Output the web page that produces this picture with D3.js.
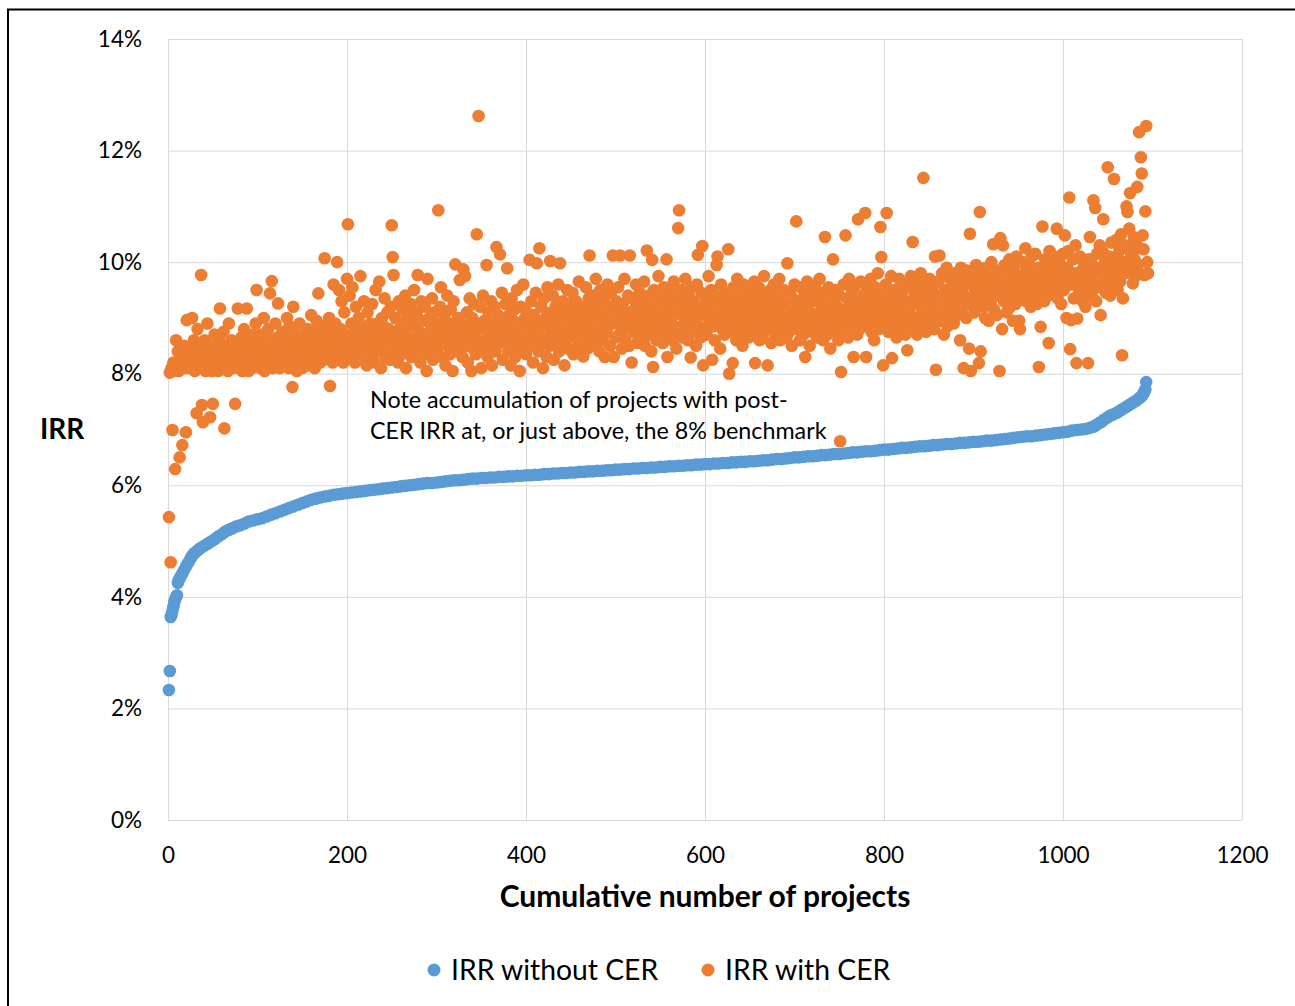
<!DOCTYPE html>
<html><head><meta charset="utf-8">
<script src="https://cdn.jsdelivr.net/npm/d3@7/dist/d3.min.js"></script>
<style>
body{margin:0;background:#fff}
svg{display:block}
text{font-family:Lato,"Open Sans","Liberation Sans",sans-serif}
</style>
</head><body>
<svg id="chart" width="1295" height="1006"></svg>
<script>
// ---------- data ----------
const xTicks = [0, 200, 400, 600, 800, 1000, 1200];
const yTicks = [0, 2, 4, 6, 8, 10, 12, 14];
const seriesNames = ["IRR without CER", "IRR with CER"];
const xTitle = "Cumulative number of projects";
const yTitle = "IRR";
const noteLines = ["Note accumulation of projects with post-", "CER IRR at, or just above, the 8% benchmark"];

// IRR without CER (%), sorted: [project number, IRR]
const irrWithoutCER = [
[1,2.33],[2,2.67],[3,3.64],[4,3.68],[5,3.75],[6,3.82],[7,3.9],[8,3.95],[9,4.0],[10,4.03],[11,4.25],[12,4.3],[13,4.33],[14,4.36],[16,4.42],[18,4.48],[20,4.54],[22,4.6],[24,4.65],[26,4.71],[28,4.76],[30,4.79],[33,4.83],[36,4.87],[40,4.91],[44,4.95],[48,4.99],[52,5.03],[56,5.08],[60,5.12],[64,5.17],[68,5.2],[72,5.23],[76,5.26],[80,5.28],[85,5.31],[90,5.35],[95,5.37],[100,5.39],
[105,5.41],[110,5.44],[115,5.47],[120,5.5],[125,5.53],[130,5.56],[135,5.59],[140,5.62],[145,5.65],[150,5.68],[155,5.71],[160,5.74],[165,5.76],[170,5.78],[175,5.8],[180,5.81],[185,5.83],[190,5.84],[195,5.85],[200,5.86],
[205,5.87],[210,5.88],[215,5.89],[220,5.9],[225,5.91],[230,5.92],[235,5.93],[240,5.94],[245,5.95],[250,5.96],[255,5.97],[260,5.98],[265,5.99],[270,6.0],[275,6.01],[280,6.02],[285,6.03],[290,6.04],[295,6.04],[300,6.05],
[305,6.06],[310,6.07],[315,6.08],[320,6.09],[325,6.09],[330,6.1],[335,6.11],[340,6.12],[345,6.12],[350,6.13],[355,6.13],[360,6.14],[365,6.14],[370,6.15],[375,6.15],[380,6.16],[385,6.16],[390,6.17],[395,6.17],[400,6.18],
[405,6.18],[410,6.19],[415,6.19],[420,6.2],[425,6.2],[430,6.21],[435,6.21],[440,6.22],[445,6.22],[450,6.23],[455,6.23],[460,6.24],[465,6.24],[470,6.25],[475,6.25],[480,6.26],[485,6.26],[490,6.27],[495,6.27],[500,6.28],
[505,6.28],[510,6.29],[515,6.29],[520,6.3],[525,6.3],[530,6.31],[535,6.31],[540,6.32],[545,6.32],[550,6.33],[555,6.33],[560,6.34],[565,6.34],[570,6.35],[575,6.35],[580,6.36],[585,6.36],[590,6.37],[595,6.37],[600,6.38],
[605,6.38],[610,6.39],[615,6.39],[620,6.4],[625,6.4],[630,6.41],[635,6.41],[640,6.42],[645,6.42],[650,6.43],[655,6.43],[660,6.44],[665,6.45],[670,6.45],[675,6.46],[680,6.47],[685,6.47],[690,6.48],[695,6.49],[700,6.5],
[705,6.5],[710,6.51],[715,6.52],[720,6.52],[725,6.53],[730,6.54],[735,6.54],[740,6.55],[745,6.56],[750,6.56],[755,6.57],[760,6.58],[765,6.59],[770,6.59],[775,6.6],[780,6.61],[785,6.61],[790,6.62],[795,6.63],[800,6.64],
[805,6.64],[810,6.65],[815,6.66],[820,6.67],[825,6.67],[830,6.68],[835,6.69],[840,6.7],[845,6.7],[850,6.71],[855,6.72],[860,6.72],[865,6.73],[870,6.74],[875,6.74],[880,6.75],[885,6.76],[890,6.76],[895,6.77],[900,6.78],
[905,6.78],[910,6.79],[915,6.8],[920,6.8],[925,6.81],[930,6.82],[935,6.83],[940,6.84],[945,6.85],[950,6.86],[955,6.87],[960,6.88],[965,6.88],[970,6.89],[975,6.9],[980,6.91],[985,6.92],[990,6.93],[995,6.94],[1000,6.95],
[1005,6.96],[1010,6.98],[1015,6.99],[1020,7.0],[1025,7.01],[1030,7.03],[1034,7.05],[1037,7.08],[1040,7.11],[1043,7.14],[1046,7.18],[1050,7.22],[1053,7.25],[1056,7.27],[1060,7.3],[1063,7.33],[1066,7.36],[1070,7.4],[1073,7.43],[1076,7.46],
[1079,7.49],[1082,7.52],[1085,7.56],[1087,7.58],[1089,7.62],[1090,7.65],[1091,7.68],[1092,7.72],[1093,7.85]
];

// IRR with CER (%), one value per project, in project order (project 1, 2, 3, ...)
const irrWithCER = [
5.43,8.02,4.62,8.1,6.99,8.2,8.05,6.29,8.6,8.15,8.4,8.05,6.5,8.3,8.1,6.72,8.25,8.5,8.1,6.95,8.96,8.2,8.45,8.1,8.3,
8.4,9.0,8.15,8.6,8.05,8.3,7.29,8.8,8.2,8.45,8.1,9.77,7.44,7.13,8.35,8.6,8.05,8.25,8.9,8.15,8.5,7.22,8.3,8.05,7.46,
8.2,8.7,8.1,8.45,8.3,8.05,8.6,9.17,8.25,8.4,8.1,8.75,7.02,8.35,8.15,8.5,8.05,8.9,8.3,8.2,8.6,8.1,8.45,8.25,7.46,
8.3,8.55,9.17,8.1,8.4,8.2,8.65,8.05,8.35,8.8,8.15,8.5,9.17,8.25,8.05,8.6,8.3,8.45,8.1,8.7,8.2,8.4,8.9,9.5,8.15,
8.55,8.3,8.1,8.7,8.4,8.2,9.0,8.05,8.5,8.35,8.15,8.8,8.25,9.44,8.6,9.66,8.1,8.45,8.3,8.9,8.2,8.65,9.26,8.4,8.1,
8.5,8.3,8.75,8.15,8.6,8.4,8.2,9.0,8.55,8.1,8.85,8.3,8.65,7.76,9.2,8.45,8.2,8.7,8.05,8.5,8.35,8.9,8.25,8.6,8.1,
8.45,8.7,8.3,8.55,8.15,8.8,8.4,8.6,8.2,9.05,8.5,8.35,8.75,8.1,8.6,8.95,8.3,9.44,8.5,8.2,8.7,8.4,8.85,8.25,10.07,
8.6,8.35,8.8,8.5,9.0,7.78,8.45,8.7,8.2,9.6,8.55,8.9,8.3,10.0,8.65,9.5,8.4,8.8,9.3,8.5,8.2,9.1,8.7,8.35,9.7,
10.68,8.6,9.4,8.3,8.9,9.55,8.5,8.75,8.2,9.2,8.65,8.4,9.0,8.55,9.75,8.3,8.85,8.6,9.3,8.45,8.7,8.15,9.1,8.8,8.5,
8.9,8.35,9.25,8.6,8.75,8.2,9.5,8.55,8.9,8.4,9.65,8.7,8.1,9.0,8.5,8.85,9.35,8.3,8.65,9.1,8.45,8.8,8.25,9.2,10.66,
10.09,9.77,8.6,9.0,8.4,8.75,8.2,9.3,8.55,8.9,8.35,9.15,8.7,8.5,9.4,8.1,8.8,9.05,8.45,8.65,9.25,8.3,8.95,8.6,9.5,
8.4,8.85,9.1,9.77,8.5,8.75,8.2,9.3,8.6,8.95,8.35,9.2,8.7,8.05,9.7,8.55,9.0,8.4,8.8,9.35,8.25,8.65,9.1,8.5,8.9,
8.45,10.93,8.7,9.2,9.55,8.3,8.85,8.6,9.05,8.15,8.75,9.4,8.5,8.9,8.35,9.15,8.65,8.05,9.3,8.55,9.96,8.8,8.4,9.0,8.7,
9.68,8.6,8.9,8.3,9.87,8.75,9.75,8.5,9.1,8.2,8.85,9.35,8.6,8.05,9.0,8.45,9.25,8.7,8.35,10.5,8.9,12.62,8.55,9.2,8.1,
8.8,9.4,8.45,8.95,8.6,9.95,8.3,9.1,8.75,8.5,9.3,8.15,8.9,8.65,9.2,8.4,10.27,8.85,9.05,8.55,10.14,8.7,9.45,8.25,8.95,
8.6,9.25,8.8,9.89,8.4,9.05,8.7,8.15,9.35,8.5,8.95,9.15,8.3,8.75,9.5,8.6,8.9,8.05,9.2,8.45,8.85,9.6,8.65,9.0,8.35,
9.1,8.7,8.95,10.04,8.5,9.3,8.8,8.2,9.05,8.6,9.45,9.98,8.75,8.4,10.25,8.9,9.2,8.55,8.1,9.35,8.65,9.0,8.3,9.55,8.85,
8.5,10.02,9.1,8.7,9.4,8.25,8.95,9.2,8.6,8.8,9.6,8.4,9.98,9.05,8.55,9.3,8.75,8.15,9.15,8.9,9.5,8.45,9.0,8.65,9.25,
8.8,9.45,8.35,9.1,8.7,9.3,8.95,8.5,9.65,8.85,9.0,8.6,9.2,8.31,9.05,8.75,9.55,8.9,8.45,9.35,10.12,8.65,9.15,8.8,9.4,
8.55,9.05,9.7,8.7,9.25,8.9,8.4,9.5,8.8,9.1,8.6,9.35,8.3,9.0,8.75,9.6,8.85,9.2,8.5,9.45,8.95,10.12,8.3,9.15,8.65,
9.3,8.9,9.55,8.7,10.12,9.05,8.45,9.25,8.8,9.7,8.6,9.1,8.95,9.4,8.5,10.12,9.0,8.2,9.35,8.75,9.15,8.85,9.6,8.55,9.25,
8.9,9.45,8.65,9.05,9.3,8.8,9.65,8.5,9.2,10.21,8.95,9.4,8.7,9.1,8.4,10.04,8.12,9.5,8.85,9.25,8.6,9.0,9.75,8.75,9.35,
8.9,9.15,8.55,9.55,8.8,9.3,10.05,8.3,9.0,8.7,9.45,8.95,9.2,8.6,9.65,8.85,9.1,8.45,9.35,10.61,10.93,8.75,9.5,9.05,8.65,
9.25,8.9,9.7,8.8,9.15,8.6,9.4,9.0,8.29,9.55,8.75,9.3,8.95,9.1,8.5,9.6,10.13,8.85,9.2,8.65,9.45,10.29,8.15,9.05,8.8,
9.35,8.7,9.15,9.75,8.9,9.0,9.5,8.25,8.85,9.25,8.6,9.4,9.95,10.1,8.95,9.1,8.45,9.6,8.8,9.3,9.05,8.7,9.45,8.9,9.2,
10.23,8.0,9.35,8.75,9.1,8.19,9.55,8.95,9.25,8.6,9.7,8.85,9.15,9.4,8.7,9.0,8.5,9.6,8.9,9.3,8.8,9.05,9.5,8.65,9.2,
8.95,9.45,8.75,9.1,9.65,8.19,9.3,8.85,9.0,9.55,8.6,9.2,8.9,9.4,8.7,9.75,9.05,8.8,9.35,8.15,9.15,8.95,9.5,8.55,9.25,
8.85,9.6,9.0,8.7,9.4,9.1,8.9,9.7,8.6,9.3,9.05,8.8,9.5,8.95,9.2,8.65,9.98,9.1,8.75,9.45,9.0,8.5,9.35,8.9,9.6,
9.15,10.73,8.8,9.3,9.05,8.6,9.55,8.95,9.2,8.7,9.4,8.3,9.0,9.65,8.85,9.25,8.5,9.1,9.5,8.75,9.35,8.9,9.6,9.0,8.65,
9.3,8.95,9.7,8.8,9.15,9.45,8.6,9.05,10.45,8.9,9.25,8.7,9.55,9.0,8.45,9.35,8.85,10.05,9.1,8.75,9.5,8.95,9.2,8.6,9.4,
6.79,8.03,9.05,8.8,9.6,9.15,10.48,8.9,9.35,8.65,9.7,9.0,8.85,9.45,9.2,8.3,9.55,8.95,9.1,8.7,10.77,9.3,8.8,9.65,9.05,
8.9,9.4,9.15,10.88,8.3,9.5,8.85,9.25,9.0,9.7,8.75,9.35,9.1,8.6,9.55,8.95,9.2,9.8,8.8,9.45,10.63,10.09,9.05,8.15,9.3,
8.9,9.6,10.88,9.15,8.75,9.4,9.0,9.75,8.28,9.25,8.85,9.5,9.1,8.65,9.35,9.0,9.7,8.8,9.2,9.45,8.95,9.6,9.05,8.7,9.3,
8.42,9.55,9.15,8.9,9.75,9.3,10.36,8.8,9.45,9.0,9.65,8.7,9.25,9.5,8.95,9.8,9.1,8.85,11.51,9.35,9.6,8.75,9.2,9.45,9.0,
9.7,8.9,9.3,9.55,9.05,8.8,10.1,8.07,9.4,9.15,9.65,10.12,8.95,9.35,9.8,9.0,8.7,9.5,9.25,9.9,8.85,9.45,9.1,9.7,9.0,
9.35,9.6,8.9,9.8,9.2,9.5,9.05,9.75,9.3,8.6,9.9,9.15,9.55,8.1,9.4,9.7,9.0,9.85,9.25,8.45,10.51,8.05,9.6,9.35,9.75,
9.1,9.5,9.95,9.3,9.65,8.19,10.9,8.4,9.45,9.8,9.2,9.55,9.0,9.9,9.35,9.7,8.95,9.6,9.25,10.0,9.45,10.32,9.15,9.75,9.5,
9.05,9.85,9.4,8.05,10.43,9.65,8.8,10.3,9.3,9.95,9.55,9.1,9.8,9.4,10.05,9.2,9.7,9.45,8.95,9.9,9.6,9.25,10.1,9.5,9.75,
8.95,8.8,9.6,9.35,10.0,9.5,9.8,10.25,9.3,9.65,9.95,9.45,9.75,9.2,10.1,9.55,9.85,9.4,10.15,9.7,9.25,9.9,8.12,9.6,8.84,
9.5,10.64,9.75,9.3,10.05,9.6,9.85,9.4,8.55,10.2,9.65,9.95,9.45,9.8,10.1,9.55,9.9,10.6,9.35,9.7,10.0,9.6,9.25,9.85,10.15,
9.5,10.48,9.75,9.0,9.9,10.2,11.16,8.44,8.96,9.6,10.05,9.35,9.8,10.3,8.19,8.99,9.7,9.45,10.1,9.55,9.85,9.3,10.0,9.65,9.2,
9.9,9.5,8.19,10.05,10.45,9.75,9.4,9.95,11.11,9.6,10.97,9.3,10.15,9.8,9.55,10.3,9.05,9.9,10.2,10.77,9.65,10.0,9.45,9.85,11.7,
9.7,10.1,9.4,10.35,9.9,9.6,11.49,10.05,9.75,10.4,9.5,9.95,10.2,9.65,10.5,8.33,9.35,10.0,9.8,10.3,11.0,10.9,9.9,10.6,11.24,
10.15,9.8,9.62,10.45,10.05,9.75,10.3,11.35,9.95,12.33,10.25,11.88,11.59,10.48,10.23,9.77,10.91,12.44,10.0,9.8
];

// ---------- layout / style ----------
const W = 1295, H = 1006;
const plot = {left: 168, right: 1242, top: 39, bottom: 820};
const colors = ["#5B9BD5", "#ED7D31"];
const markerR = 6.3;

const svg = d3.select("#chart");
svg.append("rect").attr("width", W).attr("height", H).attr("fill", "#fff");
svg.append("rect").attr("x", 8).attr("y", 9.5).attr("width", 1320).attr("height", 1020)
   .attr("fill", "none").attr("stroke", "#000").attr("stroke-width", 2);

const x = d3.scaleLinear().domain([0, 1200]).range([plot.left, plot.right]);
const y = d3.scaleLinear().domain([0, 14]).range([plot.bottom, plot.top]);

// Y axis + horizontal gridlines
svg.append("g").attr("transform", `translate(${plot.left},0)`)
  .call(d3.axisLeft(y).tickValues(yTicks).tickFormat(d => d + "%")
        .tickSize(-(plot.right - plot.left)).tickPadding(26))
  .call(g => g.select(".domain").remove())
  .call(g => g.selectAll(".tick line").attr("stroke", "#d9d9d9").attr("stroke-width", 1))
  .call(g => g.selectAll(".tick text").attr("fill", "#000").attr("font-size", 22.5)
              .attr("font-family", "Lato, sans-serif"));

// X axis + vertical gridlines
svg.append("g").attr("transform", `translate(0,${plot.bottom})`)
  .call(d3.axisBottom(x).tickValues(xTicks).tickFormat(d3.format("d"))
        .tickSize(-(plot.bottom - plot.top)).tickPadding(27))
  .call(g => g.select(".domain").remove())
  .call(g => g.selectAll(".tick line").attr("stroke", "#d9d9d9").attr("stroke-width", 1))
  .call(g => g.selectAll(".tick text").attr("fill", "#000").attr("font-size", 22.5)
              .attr("font-family", "Lato, sans-serif"));

// series: without CER
svg.append("g").selectAll("circle").data(irrWithoutCER).join("circle")
  .attr("cx", d => x(d[0])).attr("cy", d => y(d[1])).attr("r", markerR)
  .attr("fill", colors[0]);

// series: with CER
svg.append("g").selectAll("circle").data(irrWithCER).join("circle")
  .attr("cx", (d, i) => x(i + 1)).attr("cy", d => y(d)).attr("r", markerR)
  .attr("fill", colors[1]);

// annotation
const note = svg.append("text").attr("x", 370).attr("y", 408)
  .attr("font-size", 23.3).attr("fill", "#000");
noteLines.forEach((t, i) => note.append("tspan").attr("x", 370).attr("dy", i ? 30.5 : 0).text(t));

// axis titles
svg.append("text").attr("x", 705).attr("y", 907)
  .attr("text-anchor", "middle").attr("font-weight", "bold").attr("font-size", 30)
  .attr("fill", "#000").text(xTitle);
svg.append("text").attr("x", 40).attr("y", 439)
  .attr("font-weight", "bold").attr("font-size", 28).attr("fill", "#000").text(yTitle);

// legend
const legendX = [434, 708];
seriesNames.forEach((name, i) => {
  svg.append("circle").attr("cx", legendX[i]).attr("cy", 970).attr("r", 6.5).attr("fill", colors[i]);
  svg.append("text").attr("x", legendX[i] + 17).attr("y", 980)
    .attr("font-size", 28.3).attr("fill", "#000").text(name);
});
</script>
</body></html>
